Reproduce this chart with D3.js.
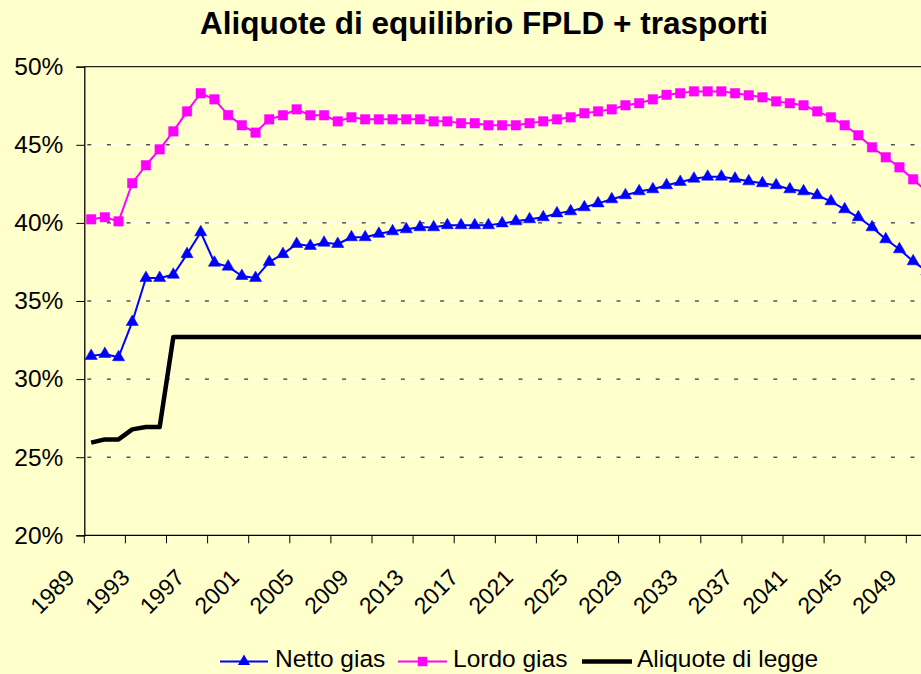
<!DOCTYPE html>
<html>
<head>
<meta charset="utf-8">
<script src="https://cdn.jsdelivr.net/npm/d3@7"></script>
<style>
  body { margin: 0; background: #ffffcc; }
  svg { display: block; font-family: Arial, "Liberation Sans", sans-serif; }
</style>
</head>
<body>
<div id="chart"></div>
<script>
// years 1989 .. 2050 (last one sits past the right edge)
var years = d3.range(1989, 2051);

var nettoGias = [31.48, 31.61, 31.40, 33.66, 36.47, 36.47, 36.68, 38.00, 39.40, 37.45,
  37.20, 36.60, 36.47, 37.50, 38.00, 38.65, 38.52, 38.73, 38.65, 39.08,
  39.08, 39.30, 39.46, 39.59, 39.72, 39.72, 39.85, 39.85, 39.85, 39.85,
  39.97, 40.10, 40.23, 40.36, 40.61, 40.74, 41.00, 41.25, 41.51, 41.77,
  42.02, 42.15, 42.41, 42.62, 42.83, 42.96, 42.96, 42.83, 42.66, 42.54,
  42.41, 42.15, 42.02, 41.77, 41.38, 40.87, 40.36, 39.72, 38.95, 38.31,
  37.54, 36.90];

var lordoGias = [40.23, 40.36, 40.10, 42.54, 43.69, 44.71, 45.86, 47.14, 48.30, 47.91,
  46.90, 46.25, 45.78, 46.63, 46.89, 47.27, 46.89, 46.89, 46.50, 46.76,
  46.63, 46.63, 46.63, 46.63, 46.63, 46.50, 46.50, 46.38, 46.38, 46.25,
  46.25, 46.25, 46.38, 46.50, 46.63, 46.76, 47.02, 47.14, 47.27, 47.53,
  47.66, 47.91, 48.20, 48.30, 48.42, 48.42, 48.42, 48.30, 48.17, 48.04,
  47.78, 47.66, 47.53, 47.14, 46.76, 46.25, 45.61, 44.84, 44.20, 43.56,
  42.79, 42.00];

var aliquoteLegge = [25.93, 26.14, 26.14, 26.78, 26.93, 26.93].concat(
  d3.range(1995, 2051).map(function () { return 32.7; }));

var yTicks = [20, 25, 30, 35, 40, 45, 50];
var xLabelYears = d3.range(1989, 2050, 4);

var series = [
  { name: "Netto gias", values: nettoGias, color: "#0000ff", width: 2, marker: "triangle" },
  { name: "Lordo gias", values: lordoGias, color: "#ff00ff", width: 2, marker: "square" },
  { name: "Aliquote di legge", values: aliquoteLegge, color: "#000000", width: 4.5, marker: null }
];

var svgWidth = 921, svgHeight = 674;
var margin = { top: 66.7, left: 84.3 };
var step = 13.7;
var plotHeight = 468.6;

var svg = d3.select("#chart").append("svg")
  .attr("width", svgWidth)
  .attr("height", svgHeight);

svg.append("rect")
  .attr("width", svgWidth)
  .attr("height", svgHeight)
  .attr("fill", "#ffffcc");

var x = d3.scaleBand()
  .domain(years)
  .range([margin.left, margin.left + years.length * step]);

var cx = function (yr) { return x(yr) + x.bandwidth() / 2; };

var y = d3.scaleLinear()
  .domain([20, 50])
  .range([margin.top + plotHeight, margin.top]);

// title
svg.append("text")
  .attr("x", 484)
  .attr("y", 34)
  .attr("text-anchor", "middle")
  .attr("font-size", "31.5px")
  .attr("font-weight", "bold")
  .text("Aliquote di equilibrio FPLD + trasporti");

// gridlines: white line with short black dashes
var grid = svg.append("g").attr("class", "grid");
yTicks.filter(function (t) { return t > 20 && t < 50; }).forEach(function (t) {
  grid.append("line")
    .attr("x1", margin.left).attr("x2", svgWidth)
    .attr("y1", y(t)).attr("y2", y(t))
    .attr("stroke", "#ffffff").attr("stroke-width", 1);
  grid.append("line")
    .attr("x1", margin.left + 3).attr("x2", svgWidth)
    .attr("y1", y(t)).attr("y2", y(t))
    .attr("stroke", "#000000").attr("stroke-width", 1)
    .attr("stroke-dasharray", "4,15.6");
});
// top border of the plot
svg.append("line")
  .attr("x1", margin.left).attr("x2", svgWidth)
  .attr("y1", y(50)).attr("y2", y(50))
  .attr("stroke", "#222").attr("stroke-width", 1.2);

// y axis
var leftAxis = d3.axisLeft(y)
  .tickValues(yTicks)
  .tickSize(8)
  .tickPadding(13)
  .tickFormat(function (d) { return d + "%"; });

var yAxis = svg.append("g")
  .attr("transform", "translate(" + margin.left + ",0)")
  .call(leftAxis);
yAxis.select(".domain").attr("stroke", "#000").attr("stroke-width", 1.3);
yAxis.selectAll(".tick line").attr("stroke", "#000");
yAxis.selectAll(".tick text")
  .attr("font-size", "24.5px")
  .attr("fill", "#000")
  .attr("font-family", "Arial, 'Liberation Sans', sans-serif");

// x axis: ticks every 3 categories, labels every 4 years
var tickEdges = years.filter(function (d, i) { return i % 3 === 0; });
var xAxisG = svg.append("g");
xAxisG.append("line")
  .attr("x1", margin.left).attr("x2", svgWidth)
  .attr("y1", y(20)).attr("y2", y(20))
  .attr("stroke", "#000").attr("stroke-width", 1.3);
xAxisG.selectAll(".xtick")
  .data(tickEdges)
  .enter()
  .append("line")
  .attr("class", "xtick")
  .attr("x1", function (d) { return x(d); })
  .attr("x2", function (d) { return x(d); })
  .attr("y1", y(20))
  .attr("y2", y(20) + 8)
  .attr("stroke", "#000");
xAxisG.selectAll(".xlabel")
  .data(xLabelYears)
  .enter()
  .append("text")
  .attr("class", "xlabel")
  .attr("transform", function (d) { return "translate(" + (cx(d) - 15) + ",579) rotate(-45)"; })
  .attr("text-anchor", "end")
  .attr("font-size", "23px")
  .text(function (d) { return d; });

// lines
var line = d3.line()
  .x(function (d, i) { return cx(years[i]); })
  .y(function (d) { return y(d); });

var plot = svg.append("g");
series.forEach(function (s) {
  plot.append("path")
    .datum(s.values)
    .attr("fill", "none")
    .attr("stroke", s.color)
    .attr("stroke-width", s.width)
    .attr("stroke-linejoin", "round")
    .attr("d", line);
});

var triangle = d3.symbol().type(d3.symbolTriangle).size(64);
var square = d3.symbol().type(d3.symbolSquare).size(90);

series.forEach(function (s) {
  if (!s.marker) return;
  plot.selectAll(null)
    .data(s.values)
    .enter()
    .append("path")
    .attr("transform", function (d, i) { return "translate(" + cx(years[i]) + "," + y(d) + ")"; })
    .attr("d", s.marker === "triangle" ? triangle : square)
    .attr("fill", s.color)
    .attr("stroke", s.color)
    .attr("stroke-opacity", 0.5)
    .attr("stroke-width", 1);
});

// legend
var legendItems = [
  { s: series[0], x1: 220, x2: 268, tx: 275 },
  { s: series[1], x1: 398, x2: 447, tx: 453 },
  { s: series[2], x1: 582, x2: 632, tx: 637 }
];
var legend = svg.append("g");
legendItems.forEach(function (it) {
  var ly = 661.5;
  legend.append("line")
    .attr("x1", it.x1).attr("x2", it.x2)
    .attr("y1", ly).attr("y2", ly)
    .attr("stroke", it.s.color)
    .attr("stroke-width", it.s.width);
  if (it.s.marker) {
    legend.append("path")
      .attr("transform", "translate(" + ((it.x1 + it.x2) / 2) + "," + ly + ")")
      .attr("d", it.s.marker === "triangle" ? triangle : square)
      .attr("fill", it.s.color);
  }
  legend.append("text")
    .attr("x", it.tx)
    .attr("y", 667)
    .attr("font-size", "24.5px")
    .text(it.s.name);
});
</script>
</body>
</html>
